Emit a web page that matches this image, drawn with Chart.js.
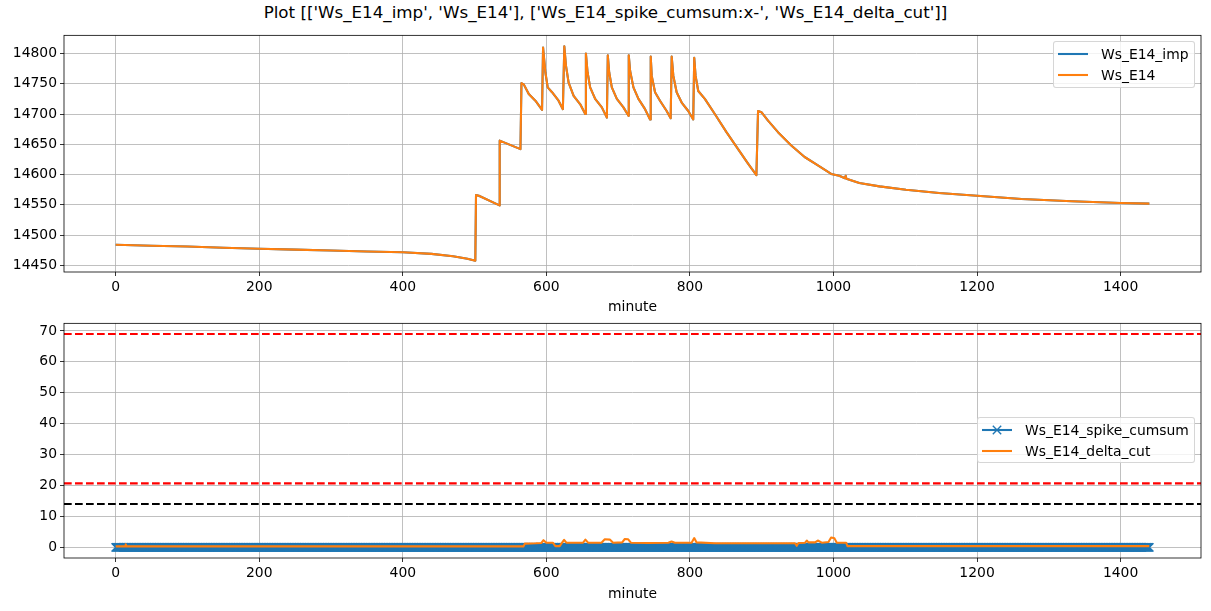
<!DOCTYPE html>
<html>
<head>
<meta charset="utf-8">
<script src="https://cdn.jsdelivr.net/npm/chart.js@4.4.1/dist/chart.umd.min.js"></script>
<style>
body { margin:0; background:#fff; width:1211px; height:611px; overflow:hidden; font-family:'DejaVu Sans', sans-serif; position:relative; }
#title { position:absolute; left:0; top:2px; width:1211px; text-align:center; font-size:16.7px; line-height:20px; color:#000; }
.box { position:absolute; left:0; width:1211px; }
.legend { position:absolute; border:1px solid rgba(204,204,204,0.8); background:rgba(255,255,255,0.8); border-radius:3px; font-size:13.9px; box-sizing:border-box; z-index:2; }
.legend .row { position:absolute; left:0; height:16px; line-height:16px; white-space:nowrap; }
.legend svg { position:absolute; left:3px; top:0; }
.legend span { position:absolute; left:47px; top:0; }
</style>
</head>
<body>
<div id="title">Plot [['Ws_E14_imp', 'Ws_E14'], ['Ws_E14_spike_cumsum:x-', 'Ws_E14_delta_cut']]</div>
<div class="box" style="top:24px;height:296px"><canvas id="topChart"></canvas></div>
<div class="box" style="top:312px;height:299px"><canvas id="bottomChart"></canvas></div>
<div class="legend" id="topLegend" style="left:1053px;top:41px;width:142px;height:47px"></div>
<div class="legend" id="bottomLegend" style="left:977px;top:417px;width:218px;height:46px"></div>
<script>
// axes
const xRange = [-72, 1512];
const xTicks = [0, 200, 400, 600, 800, 1000, 1200, 1400];
const topRange = [14439, 14830];
const topTicks = [14450, 14500, 14550, 14600, 14650, 14700, 14750, 14800];
const bottomRange = [-3.45, 72.45];
const bottomTicks = [0, 10, 20, 30, 40, 50, 60, 70];

// top plot: Ws_E14 (Ws_E14_imp lies underneath it)
const wsMinutes = [0,50,100,150,200,250,300,350,400,440,470,490,501,502,506,534.7,535,563.9,565.3,568.5,575.5,584.7,594,595.4,598.6,601.9,607.9,617,623,625,627.3,631,638,647.2,654.2,655.1,657.4,661,668,677.3,684.3,685.6,687.5,691.2,698.2,707.4,714.4,714.8,716.7,721.3,728.3,737.5,744.5,745.4,746.8,751.4,758.3,767.6,773.2,774.6,776.9,781.5,788.5,797.7,804.6,806,807.9,811.6,820.8,834.7,850.9,867.1,881,892.6,894.9,899.6,908.8,922.7,941.2,959.8,978.3,996.8,1008,1016,1017,1018,1036,1064,1101,1147,1200,1262,1332,1400,1440];
const wsValues = [14484,14482.5,14481,14479,14477.5,14476,14474.5,14473,14471.5,14469,14465,14461,14457.5,14566,14565,14549,14656,14642,14751,14749,14733,14722,14707,14810,14769,14744,14736,14722,14708,14812,14780,14752,14730,14716,14700,14800,14769,14744,14725,14711,14694,14797,14769,14744,14725,14711,14697,14797,14771,14744,14725,14708,14691,14795,14763,14736,14722,14705,14693,14795,14763,14736,14719,14705,14691,14793,14763,14738,14725,14700,14670,14642,14618,14599,14705,14703,14689,14670,14648,14629,14615,14601,14598,14594,14598,14593,14586,14580.5,14575,14569.5,14565,14559.5,14556,14553,14552];
const wsImpValues = wsValues;

// bottom plot
const cumsumRuns = [[0, 1440, 0]]; // [from minute, to minute, value], one sample per minute
const deltaMinutes = [0,13,14,15,568,570,585,593,596,600,609,612.6,618.6,621.9,624.7,627.9,651.2,654.4,658.1,676.7,681.4,688.4,693,705.6,709.3,714,717.7,741.9,770,774.4,779.1,802.3,806,809.3,834.9,881.4,927.9,946.5,948.8,951.2,960.5,962.8,965.1,974.4,978.1,983.7,993,996.7,1001.4,1004.6,1017.6,1019.5,1440];
const deltaValues = [0.3,0.3,1.0,0.3,0.3,1.2,1.3,1.4,2.3,1.5,1.5,0.4,0.4,1.5,2.4,1.5,1.5,2.5,1.5,1.5,2.6,2.5,1.5,1.6,2.7,2.6,1.5,1.4,1.5,1.9,1.5,1.5,3.0,1.6,1.3,1.3,1.3,1.3,0.5,1.4,1.5,2.2,1.6,1.6,2.2,1.5,1.7,3.2,2.9,1.5,1.5,0.4,0.4];
const redLimits = [69.0, 20.7];
const blackLimits = [14.0];

const topNames = ['Ws_E14_imp', 'Ws_E14'];
const bottomNames = ['Ws_E14_spike_cumsum', 'Ws_E14_delta_cut'];

const BLUE = '#1f77b4', ORANGE = '#ff7f0e';
const LW = 2.08;

function pts(xs, ys) { return xs.map((x, i) => ({x: x, y: ys[i]})); }
function font() { return {family: 'DejaVu Sans', size: 13.9}; }

const cumsumPoints = [];
cumsumRuns.forEach(function(r) {
	for (let m = r[0]; m <= r[1]; m++) cumsumPoints.push({x: m, y: r[2]});
});

const framePlugin = {
	id: 'frame',
	afterDatasetsDraw(chart) {
		const ctx = chart.ctx, a = chart.chartArea;
		ctx.save();
		ctx.strokeStyle = '#000';
		ctx.lineWidth = 0.8;
		ctx.strokeRect(a.left, a.top, a.right - a.left, a.bottom - a.top);
		ctx.restore();
	}
};

function xScale(h, pad) {
	return {
		type: 'linear', min: xRange[0], max: xRange[1],
		afterBuildTicks: s => { s.ticks = xTicks.map(v => ({value: v})); },
		afterFit: s => { s.height = h; },
		ticks: {callback: v => String(v), color: '#000', font: font(), padding: 3, maxRotation: 0, autoSkip: false},
		grid: {color: '#b0b0b0', lineWidth: 0.8, tickColor: '#000', tickLength: 4, tickWidth: 0.8},
		border: {display: false},
		title: {display: true, text: 'minute', color: '#000', font: font(), padding: {top: 0, bottom: pad}}
	};
}
function yScale(range, ticks) {
	return {
		type: 'linear', min: range[0], max: range[1],
		afterBuildTicks: s => { s.ticks = ticks.map(v => ({value: v})); },
		afterFit: s => { s.width = 64; },
		ticks: {callback: v => String(v), color: '#000', font: font(), padding: 3, autoSkip: false},
		grid: {color: '#b0b0b0', lineWidth: 0.8, tickColor: '#000', tickLength: 4, tickWidth: 0.8},
		border: {display: false}
	};
}
function lineSet(label, data, color, order) {
	return {label: label, data: data, borderColor: color, backgroundColor: color, borderWidth: LW,
		pointRadius: 0, borderJoinStyle: 'round', tension: 0, order: order};
}
function hline(level, color) {
	return {data: [{x: xRange[0], y: level}, {x: xRange[1], y: level}], borderColor: color,
		borderWidth: LW, borderDash: [7.7, 3.3], pointRadius: 0, order: 0};
}
const baseOptions = {
	responsive: true, maintainAspectRatio: false, animation: false,
	plugins: {legend: {display: false}, tooltip: {enabled: false}, title: {display: false}}
};

new Chart(document.getElementById('topChart'), {
	type: 'line',
	data: {datasets: [
		lineSet(topNames[0], pts(wsMinutes, wsImpValues), BLUE, 2),
		lineSet(topNames[1], pts(wsMinutes, wsValues), ORANGE, 1)
	]},
	options: Object.assign({}, baseOptions, {
		layout: {padding: {top: 10, right: 10, left: 0, bottom: 0}},
		scales: {x: xScale(48, 4), y: yScale(topRange, topTicks)}
	}),
	plugins: [framePlugin]
});

const cumsumSet = lineSet(bottomNames[0], cumsumPoints, BLUE, 3);
cumsumSet.pointStyle = 'crossRot';
cumsumSet.pointRadius = 5.9;
cumsumSet.pointBorderWidth = 1.4;
cumsumSet.pointBorderColor = BLUE;

new Chart(document.getElementById('bottomChart'), {
	type: 'line',
	data: {datasets: [
		cumsumSet,
		lineSet(bottomNames[1], pts(deltaMinutes, deltaValues), ORANGE, 2)
	].concat(redLimits.map(v => hline(v, '#ff0000')), blackLimits.map(v => hline(v, '#000000')))},
	options: Object.assign({}, baseOptions, {
		layout: {padding: {top: 10, right: 10, left: 0, bottom: 3}},
		scales: {x: xScale(50, 5), y: yScale(bottomRange, bottomTicks)}
	}),
	plugins: [framePlugin]
});

// legends
function legend(el, names, colors, markers) {
	const rows = [11.5, 33];
	names.forEach(function(n, i) {
		const row = document.createElement('div');
		row.className = 'row';
		row.style.top = (rows[i] - 8) + 'px';
		let svg = '<svg width="32" height="16"><line x1="1" y1="8" x2="31" y2="8" stroke="' + colors[i] + '" stroke-width="2.08"/>';
		if (markers[i]) {
			svg += '<line x1="11.8" y1="3.8" x2="20.2" y2="12.2" stroke="' + colors[i] + '" stroke-width="1.4"/>' +
				'<line x1="11.8" y1="12.2" x2="20.2" y2="3.8" stroke="' + colors[i] + '" stroke-width="1.4"/>';
		}
		svg += '</svg>';
		row.innerHTML = svg + '<span></span>';
		row.querySelector('span').textContent = n;
		el.appendChild(row);
	});
}
legend(document.getElementById('topLegend'), topNames, [BLUE, ORANGE], [false, false]);
legend(document.getElementById('bottomLegend'), bottomNames, [BLUE, ORANGE], [true, false]);
</script>
</body>
</html>
